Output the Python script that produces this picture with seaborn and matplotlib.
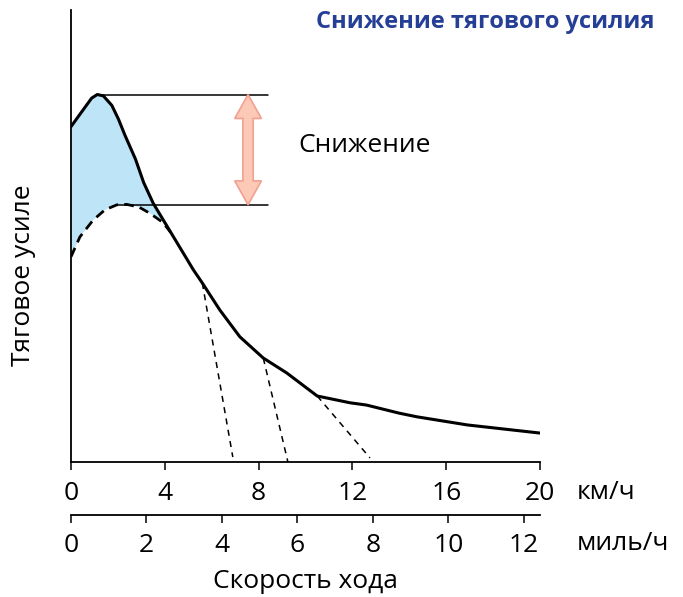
import numpy as np
import pandas as pd
import matplotlib
matplotlib.use("Agg")
import matplotlib.pyplot as plt
from matplotlib.patches import Polygon
import seaborn as sns

# main traction curve (km/h, relative units 0..100)
speed_kmh = [0.0, 0.46, 0.88, 1.12, 1.38, 1.74, 2.02, 2.30, 2.75, 3.1, 3.51, 4.22, 5.22, 5.6,
             6.35, 7.2, 8.2, 9.2, 10.5, 11.9, 12.6, 14.0, 14.75, 16.9, 20.0]
traction = [74.2, 77.5, 80.5, 81.3, 81.0, 78.9, 75.9, 72.3, 67.0, 61.8, 57.2, 51.1, 42.5, 39.6,
            33.6, 27.7, 23.0, 19.7, 14.6, 13.1, 12.6, 10.8, 10.0, 8.2, 6.4]

# reduced curve (dashed)
base_kmh = [0.0, 0.38, 0.94, 1.45, 1.96, 2.37, 2.9, 3.37, 3.92, 4.25]
base_traction = [45.4, 49.8, 53.5, 55.8, 56.9, 57.0, 56.4, 55.0, 53.0, 50.8]

# gear extension lines: (start km/h, end km/h), (start value, end value)
gear_x = [(5.6, 6.9), (8.2, 9.25), (10.5, 12.75)]
gear_y = [(39.6, 1.1), (23.0, 0.0), (14.6, 0.9)]

peak_level = 81.3
low_level = 56.9
km_ticks = [0, 4, 8, 12, 16, 20]
mph_ticks = [0, 2, 4, 6, 8, 10, 12]

sns.set_theme(style="white")
plt.rcParams["font.family"] = ["Open Sans", "DejaVu Sans"]
plt.rcParams["text.color"] = "black"
plt.rcParams["axes.labelcolor"] = "black"
plt.rcParams["xtick.color"] = "black"

FS = 19

fig = plt.figure(figsize=(6.83, 5.97), dpi=100)
ax = fig.add_axes([71 / 683, 135 / 597, 469 / 683, 452 / 597])

# blue area between the two curves
k = 12
fill_x = np.concatenate([speed_kmh[:k], base_kmh[::-1]])
fill_y = np.concatenate([traction[:k], base_traction[::-1]])
ax.fill(fill_x, fill_y, color="#bde5f7", lw=0, zorder=1)

for gx, gy in zip(gear_x, gear_y):
    sns.lineplot(x=list(gx), y=list(gy), ax=ax, color="black", lw=1.1, zorder=2)
    ax.lines[-1].set_dashes([4, 3.5])

sns.lineplot(x=base_kmh, y=base_traction, ax=ax, color="black", lw=2.0, sort=False, zorder=3)
ax.lines[-1].set_dashes([3.5, 2.2])

sns.lineplot(x=speed_kmh, y=traction, ax=ax, color="black", lw=2.2, sort=False, zorder=4)
ax.lines[-1].set_solid_joinstyle("round")

# level lines
ax.plot([1.1, 8.4], [peak_level, peak_level], color="black", lw=1.1, zorder=2)
ax.plot([2.0, 8.4], [low_level, low_level], color="black", lw=1.1, zorder=2)

# double-headed arrow
cx, hw, sw, hl = 7.55, 0.57, 0.22, 5.3
arrow = Polygon([
    (cx, peak_level), (cx + hw, peak_level - hl), (cx + sw, peak_level - hl),
    (cx + sw, low_level + hl), (cx + hw, low_level + hl), (cx, low_level),
    (cx - hw, low_level + hl), (cx - sw, low_level + hl), (cx - sw, peak_level - hl),
    (cx - hw, peak_level - hl)], closed=True,
    facecolor="#fbc9b6", edgecolor="#f2a090", lw=1.2, zorder=5)
ax.add_patch(arrow)
ax.text(9.68, 70.1, "Снижение", fontsize=FS, ha="left", va="center")

ax.set_xlim(0, 20)
ax.set_ylim(0, 100)
ax.set_yticks([])
ax.set_xticks(km_ticks)
ax.set_xticklabels([str(t) for t in km_ticks], fontsize=FS)
ax.tick_params(axis="x", length=6, width=1.1, color="black", pad=8, bottom=True)
for side in ["top", "right"]:
    ax.spines[side].set_visible(False)
for side in ["left", "bottom"]:
    ax.spines[side].set_color("black")
    ax.spines[side].set_linewidth(1.3)

ax.set_ylabel("Тяговое усиле", fontsize=FS)
ax.yaxis.set_label_coords(-0.075, 0.414)

secax = ax.secondary_xaxis(-53 / 452, functions=(lambda v: v / 1.609, lambda v: v * 1.609))
secax.set_xticks(mph_ticks)
secax.set_xticklabels([str(t) for t in mph_ticks], fontsize=FS)
secax.tick_params(axis="x", length=6, width=1.1, color="black", pad=7)
secax.spines["bottom"].set_color("black")
secax.spines["bottom"].set_linewidth(1.3)
secax.set_xlabel("Скорость хода", fontsize=FS, labelpad=8)

ax.text(1.079, -0.068, "км/ч", transform=ax.transAxes, fontsize=FS, ha="left", va="center")
ax.text(1.079, -0.180, "миль/ч", transform=ax.transAxes, fontsize=FS, ha="left", va="center")

fig.text(655 / 683, 1 - 22 / 597, "Снижение тягового усилия", ha="right", va="center",
         fontsize=17, fontweight="bold", color="#263f96")

fig.savefig("out.png", dpi=100)
